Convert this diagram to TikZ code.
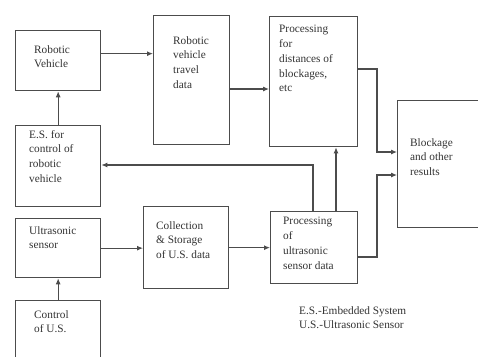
\documentclass[tikz,border=0pt]{standalone}
\usepackage{fontspec}
\setmainfont{Liberation Serif}
\usetikzlibrary{arrows.meta,positioning}

\tikzset{
  blk/.style={draw=black!70, line width=1.3pt, anchor=north west, inner sep=0pt},
  txt/.style={align=left, inner sep=0pt, anchor=north west, text=black!80,
    font=\fontsize{11.3}{14.8}\selectfont},
  link/.style={draw=black!70, line width=1.1pt, -{Latex[length=6pt,width=5pt]}},
  wire/.style={draw=black!70, line width=1.1pt}
}

\begin{document}
\begin{tikzpicture}[x=1pt,y=-1pt]
\useasboundingbox (0,0) rectangle (478,356);
\fill[white] (0,0) rectangle (478,356);
% boxes
\node[blk, minimum width=85pt, minimum height=60pt] (rv) at (15,30) {};
\node[blk, minimum width=76pt, minimum height=129pt] (td) at (153,15) {};
\node[blk, minimum width=88pt, minimum height=130pt] (pd) at (269,16) {};
\node[blk, minimum width=90pt, minimum height=127pt] (bl) at (397,100) {};
\node[blk, minimum width=85pt, minimum height=81pt] (es) at (15,125) {};
\node[blk, minimum width=85pt, minimum height=59pt] (us) at (15,218) {};
\node[blk, minimum width=85pt, minimum height=82pt] (cs) at (143,206) {};
\node[blk, minimum width=87pt, minimum height=72pt] (pu) at (270,211) {};
\node[blk, minimum width=85pt, minimum height=70pt] (cu) at (15,300) {};
%
% texts
\node[txt] (rvt) at (34,45) {Robotic\\Vehicle};
\node[txt] (tdt) at (173,36) {Robotic\\vehicle\\travel\\data};
\node[txt] (pdt) at (279,25) {Processing\\for\\distances of\\blockages,\\etc};
\node[txt] (blt) at (410,138) {Blockage\\and other\\results};
\node[txt] (est) at (29,130) {E.S. for\\control of\\robotic\\vehicle};
\node[txt] (ust) at (29,226) {Ultrasonic\\sensor};
\node[txt] (cst) at (156,221) {Collection\\\& Storage\\of U.S. data};
\node[txt] (put) at (283,217) {Processing\\of\\ultrasonic\\sensor data};
\node[txt] (cut) at (34,310) {Control\\of U.S.};
\node[txt] (key) at (299,306) {E.S.-Embedded System\\U.S.-Ultrasonic Sensor};
%
% connectors
\coordinate (j1) at (377,69);
\coordinate (j2) at (377,257);
\coordinate (up) at (313,165);
\draw[link] ([yshift=7pt]rv.east) -- ([yshift=7pt]rv.east -| td.west);
\draw[link] (td.east |- 0,89) -- (pd.west |- 0,89);
\draw[link] (es.north) -- (rv.south);
\draw[link] (cu.north) -- (us.south);
\draw[link] (us.east) -- (us.east -| cs.west);
\draw[link] (cs.east) -- (cs.east -| pu.west);
\draw[link] (pd.east |- j1) -- (j1) |- (bl.west |- 0,152);
\draw[link] (pu.east |- j2) -- (j2) |- (bl.west |- 0,175);
\draw[link] (pu.north -| up) -- (up) -- (up -| es.east);
\draw[link] (pu.north -| 336,0) -- (pd.south -| 336,0);
\end{tikzpicture}
\end{document}
